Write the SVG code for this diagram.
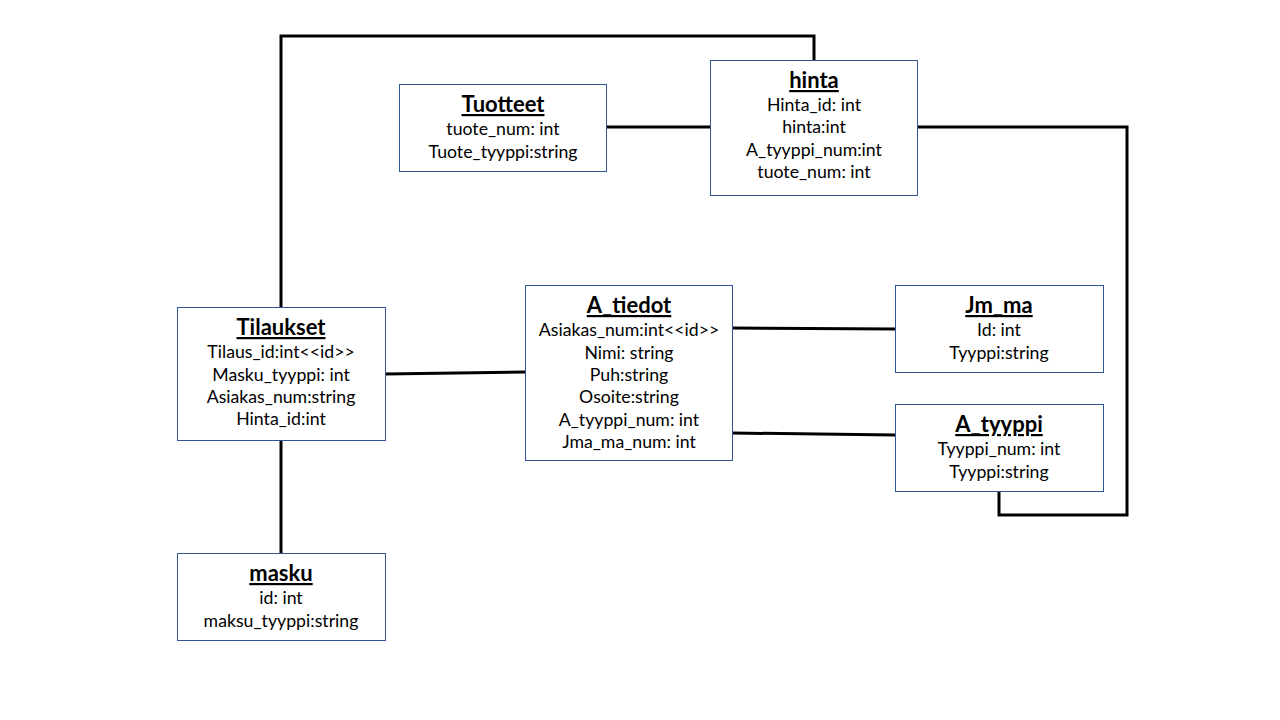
<svg xmlns="http://www.w3.org/2000/svg" width="1280" height="720" viewBox="0 0 1280 720">
<style>
.box{fill:#fff;stroke:#2F5597;stroke-width:1}
.t{font-family:Lato,"Open Sans",sans-serif;font-size:22px;font-weight:bold;text-anchor:middle;text-decoration:underline;fill:#000}
.a{font-family:Lato,"Open Sans",sans-serif;font-size:17.7px;text-anchor:middle;fill:#000}
.c{fill:none;stroke:#000;stroke-width:3}
</style>
<rect width="1280" height="720" fill="#fff"/>
<g id="connectors">
<polyline class="c" points="281,307 281,36 814,36 814,60"/>
<line class="c" x1="606" y1="127" x2="710" y2="127"/>
<polyline class="c" points="917,127 1127,127 1127,515 999,515 999,491"/>
<line class="c" x1="385" y1="374" x2="525" y2="372"/>
<line class="c" x1="732" y1="328" x2="895" y2="329"/>
<line class="c" x1="732" y1="433" x2="895" y2="435"/>
<line class="c" x1="281" y1="440" x2="281" y2="553"/>
</g>
<g id="Tuotteet">
<rect class="box" x="399.5" y="84.5" width="207" height="87"/>
<text class="t" x="503" y="112">Tuotteet</text>
<text class="a" x="503" y="135">tuote_num: int</text>
<text class="a" x="503" y="158">Tuote_tyyppi:string</text>
</g>
<g id="hinta">
<rect class="box" x="710.5" y="60.5" width="207" height="135"/>
<text class="t" x="814" y="88">hinta</text>
<text class="a" x="814" y="111">Hinta_id: int</text>
<text class="a" x="814" y="133">hinta:int</text>
<text class="a" x="814" y="156">A_tyyppi_num:int</text>
<text class="a" x="814" y="178">tuote_num: int</text>
</g>
<g id="Tilaukset">
<rect class="box" x="177.5" y="307.5" width="208" height="133"/>
<text class="t" x="281" y="335">Tilaukset</text>
<text class="a" x="281" y="358">Tilaus_id:int&lt;&lt;id&gt;&gt;</text>
<text class="a" x="281" y="381">Masku_tyyppi: int</text>
<text class="a" x="281" y="403">Asiakas_num:string</text>
<text class="a" x="281" y="425">Hinta_id:int</text>
</g>
<g id="A_tiedot">
<rect class="box" x="525.5" y="285.5" width="207" height="175"/>
<text class="t" x="629" y="313">A_tiedot</text>
<text class="a" x="629" y="336">Asiakas_num:int&lt;&lt;id&gt;&gt;</text>
<text class="a" x="629" y="359">Nimi: string</text>
<text class="a" x="629" y="381">Puh:string</text>
<text class="a" x="629" y="403">Osoite:string</text>
<text class="a" x="629" y="426">A_tyyppi_num: int</text>
<text class="a" x="629" y="448">Jma_ma_num: int</text>
</g>
<g id="Jm_ma">
<rect class="box" x="895.5" y="285.5" width="208" height="87"/>
<text class="t" x="999" y="313">Jm_ma</text>
<text class="a" x="999" y="336">Id: int</text>
<text class="a" x="999" y="359">Tyyppi:string</text>
</g>
<g id="A_tyyppi">
<rect class="box" x="895.5" y="404.5" width="208" height="87"/>
<text class="t" x="999" y="432">A_tyyppi</text>
<text class="a" x="999" y="455">Tyyppi_num: int</text>
<text class="a" x="999" y="478">Tyyppi:string</text>
</g>
<g id="masku">
<rect class="box" x="177.5" y="553.5" width="208" height="87"/>
<text class="t" x="281" y="581">masku</text>
<text class="a" x="281" y="604">id: int</text>
<text class="a" x="281" y="627">maksu_tyyppi:string</text>
</g>
</svg>
